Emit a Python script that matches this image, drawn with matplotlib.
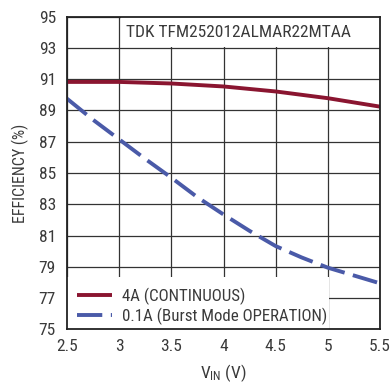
import matplotlib
matplotlib.use("Agg")
import matplotlib.pyplot as plt
from matplotlib.patches import Rectangle

plt.rcParams['font.family'] = ['Roboto Condensed', 'DejaVu Sans']
plt.rcParams['mathtext.fontset'] = 'custom'
plt.rcParams['mathtext.rm'] = 'Roboto Condensed'
plt.rcParams['mathtext.it'] = 'Roboto Condensed'

# Efficiency vs input voltage
vin_4a = [2.5, 3.0, 3.5, 4.0, 4.5, 5.0, 5.5]
eff_4a = [90.82, 90.82, 90.72, 90.53, 90.21, 89.78, 89.24]

vin_burst = [2.5, 2.75, 3.0, 3.25, 3.5, 3.75, 4.0, 4.25, 4.5, 4.75, 5.0, 5.25, 5.5]
eff_burst = [89.75, 88.4, 87.15, 85.9, 84.7, 83.45, 82.35, 81.3, 80.33, 79.6, 78.95, 78.45, 77.95]

label_4a = "4A (CONTINUOUS)"
label_burst = "0.1A (Burst Mode OPERATION)"
part_name = "TDK TFM252012ALMAR22MTAA"

x_ticks = [2.5, 3, 3.5, 4, 4.5, 5, 5.5]
x_tick_labels = ["2.5", "3", "3.5", "4", "4.5", "5", "5.5"]
y_ticks = [75, 77, 79, 81, 83, 85, 87, 89, 91, 93, 95]

text_color = "#3a3a3a"
red = "#8a1530"
blue = "#4a5aa8"

fig = plt.figure(figsize=(3.90, 3.83), dpi=100)
ax = fig.add_axes([0.1718, 0.1397, 0.8026, 0.8172])

ax.set_xlim(2.5, 5.5)
ax.set_ylim(75, 95)
ax.set_xticks(x_ticks)
ax.set_xticklabels(x_tick_labels)
ax.set_yticks(y_ticks)
ax.tick_params(axis='both', length=0, labelsize=12.5, colors=text_color)
ax.tick_params(axis='y', pad=8)
ax.tick_params(axis='x', pad=7)
ax.grid(True, color="#333333", linewidth=0.9)
ax.set_axisbelow(True)
for s in ax.spines.values():
    s.set_color("#222222")
    s.set_linewidth(1.3)
    s.set_zorder(5)

# white panels behind the title text and the legend
ax.add_patch(Rectangle((3.015, 93.07), 2.49, 1.93, facecolor="white",
                       edgecolor="none", zorder=2))
ax.add_patch(Rectangle((2.5, 75), 2.51, 3.35, facecolor="white",
                       edgecolor="none", zorder=2))

ax.plot(vin_4a, eff_4a, color=red, linewidth=2.8, zorder=3, label=label_4a,
        solid_capstyle='butt')
ax.plot(vin_burst, eff_burst, color=blue, linewidth=2.8, zorder=3,
        dashes=(6.5, 2.2), label=label_burst)

ax.text(4.14, 93.95, part_name, ha='center', va='center', fontsize=12.5,
        color=text_color, zorder=4)

leg = ax.legend(loc='upper left', bbox_to_anchor=(0.031, 0.135),
                frameon=False, fontsize=12.2, handlelength=2.1,
                handletextpad=0.55, labelspacing=0.18, borderpad=0,
                borderaxespad=0)
for t in leg.get_texts():
    t.set_color(text_color)
leg.set_zorder(6)

ax.set_xlabel(r"V$_{\mathrm{IN}}$ (V)", fontsize=12.5, color=text_color, labelpad=6)
ax.set_ylabel("EFFICIENCY (%)", fontsize=11.5, color=text_color, labelpad=7)

fig.savefig("out.png", dpi=100)
